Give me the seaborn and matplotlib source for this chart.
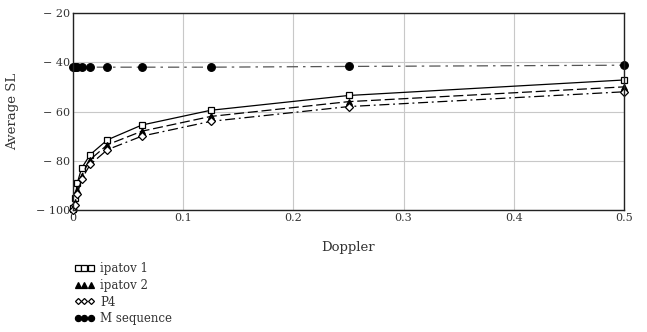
import matplotlib
matplotlib.use("Agg")
import matplotlib.pyplot as plt
import seaborn as sns
import pandas as pd

doppler = [0, 1/512, 1/256, 1/128, 1/64, 1/32, 1/16, 1/8, 1/4, 1/2]
ipatov1 = [-99, -95, -89, -83, -77.5, -71.5, -65.5, -59.5, -53.5, -47.2]
ipatov2 = [-99.5, -97, -92, -86, -79.5, -73.5, -68, -62, -56, -50]
p4 = [-100, -98, -93.5, -87.5, -81.5, -75.5, -70, -64, -58, -52]
mseq = [-42, -42, -42, -42, -42, -42, -42, -42, -41.7, -41.2]
series_names = ["ipatov 1", "ipatov 2", "P4", "M sequence"]
yticks = [-100, -80, -60, -40, -20]
xticks = [0, 0.1, 0.2, 0.3, 0.4, 0.5]

sns.set_style("whitegrid")
plt.rcParams['font.family'] = ['DejaVu Serif']

fig = plt.figure(figsize=(6.47, 3.32), dpi=100)
ax = fig.add_axes([73/647, 1-210/332, (624-73)/647, (210-13)/332])

styles = [
    dict(marker='s', markerfacecolor='white', markeredgecolor='black', markersize=5, color='black', linestyle='-'),
    dict(marker='^', markerfacecolor='black', markeredgecolor='black', markersize=5, color='black', linestyle=(0, (8, 3))),
    dict(marker='D', markerfacecolor='white', markeredgecolor='black', markersize=3.8, color='black', linestyle=(0, (8, 3, 1.5, 3))),
    dict(marker='o', markerfacecolor='black', markeredgecolor='black', markersize=5.5, color='#555555', linestyle=(0, (9, 4, 2, 4))),
]
vals = [ipatov1, ipatov2, p4, mseq]
for name, v, st in zip(series_names, vals, styles):
    df = pd.DataFrame({"Doppler": doppler, "SL": v})
    ls = st.pop('linestyle')
    sns.lineplot(data=df, x="Doppler", y="SL", ax=ax, label=name, linewidth=0.9,
                 markeredgewidth=0.9, clip_on=False, **st)
    ax.lines[-1].set_linestyle(ls)
    ax.lines[-1].set_markerfacecolor(st['markerfacecolor'])

ax.set_xlim(0, 0.5)
ax.set_ylim(-100, -20)
ax.set_xticks(xticks)
ax.set_yticks(yticks)
ax.set_xticklabels(["0", "0.1", "0.2", "0.3", "0.4", "0.5"])
ax.set_yticklabels(["− 100", "− 80", "− 60", "− 40", "− 20"])
ax.tick_params(labelsize=8, length=0, pad=2, colors='#333333')
ax.grid(True, color='#c8c8c8', linewidth=0.8)
for s in ax.spines.values():
    s.set_color('#222222')
    s.set_linewidth(1.0)
ax.set_xlabel("Doppler", fontsize=9.5, color='#333333', labelpad=13)
ax.set_ylabel("Average SL", fontsize=9.5, color='#333333', labelpad=12)

leg = ax.legend(loc='upper left', bbox_to_anchor=(74/647, 1-262/332), bbox_transform=fig.transFigure,
                frameon=False, fontsize=8.5, numpoints=3, handlelength=1.7, handletextpad=0.5,
                labelspacing=0.32, borderaxespad=0, borderpad=0)
for h in leg.legend_handles:
    h.set_linestyle('None')
    h.set_markersize(h.get_markersize() * 0.8)
for t in leg.get_texts():
    t.set_color('#333333')

fig.savefig("out.png", dpi=100)
